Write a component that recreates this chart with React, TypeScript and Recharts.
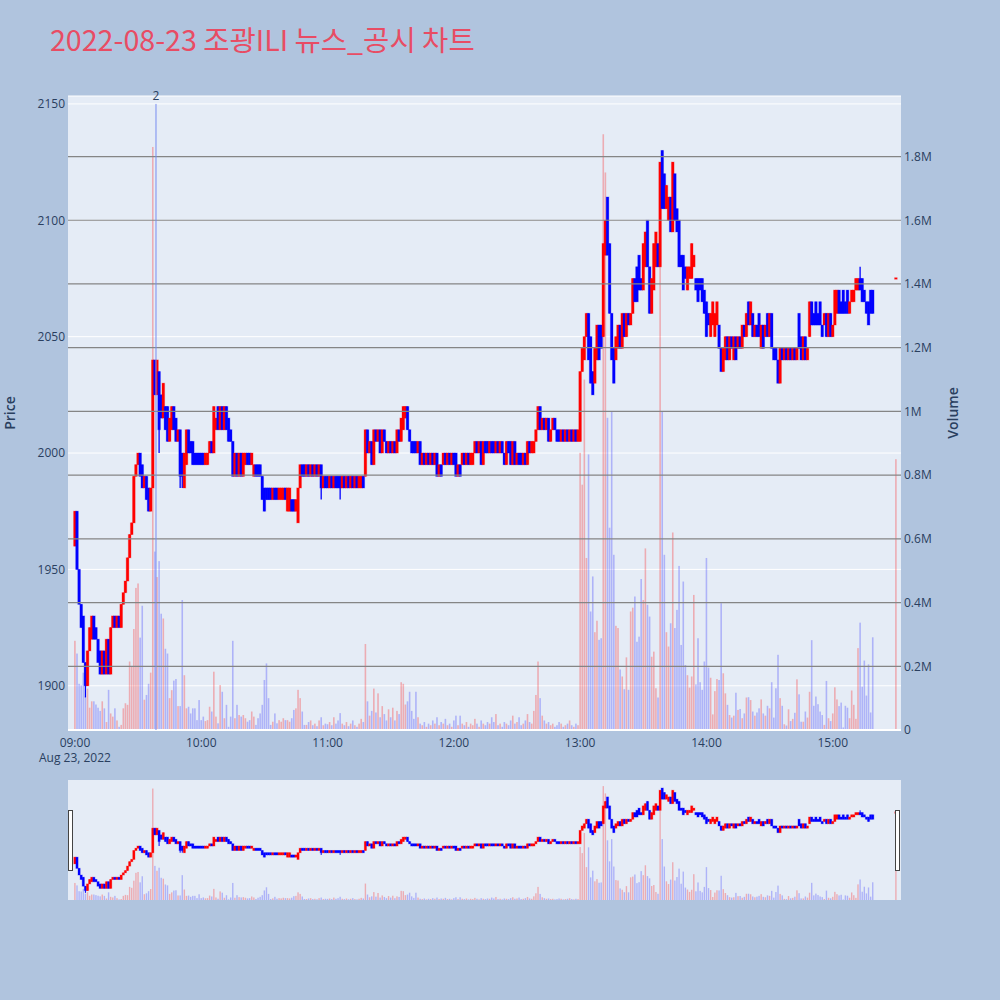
import React from 'react';
import { ComposedChart, Bar, XAxis, YAxis, CartesianGrid, ReferenceLine, ReferenceDot } from 'recharts';

const FONT = "'Open Sans', 'Noto Sans CJK KR', sans-serif";
const TEXT = '#2a3f5f';
const UP = '#ff0000';
const DOWN = '#0000ff';

const title = '2022-08-23 조광ILI 뉴스_공시 차트';
const dateLabel = 'Aug 23, 2022';
// minutes after 09:00
const timeTicks = [0, 60, 120, 180, 240, 300, 360];
const timeLabels = ['09:00', '10:00', '11:00', '12:00', '13:00', '14:00', '15:00'];
const priceTicks = [1900, 1950, 2000, 2050, 2100, 2150];
const volumeTicks = [0, 200, 400, 600, 800, 1000, 1200, 1400, 1600, 1800]; // thousand shares
const news = [{ minute: 38.5, price: 2150, count: 2 }];

// 1-minute candles [open, close], one list per hour
const candles09: [number, number][] = [
  [1960, 1975], [1975, 1950], [1950, 1935], [1935, 1925], [1930, 1910], [1910, 1900], [1900, 1915], [1915, 1925], [1920, 1930], [1930, 1920],
  [1925, 1920], [1920, 1910], [1915, 1905], [1905, 1915], [1915, 1905], [1905, 1920], [1920, 1905], [1905, 1925], [1925, 1930], [1930, 1925],
  [1925, 1930], [1930, 1925], [1925, 1935], [1935, 1940], [1940, 1945], [1945, 1955], [1955, 1965], [1965, 1970], [1970, 1990], [1990, 1995],
  [1995, 2000], [2000, 1990], [1995, 1985], [1985, 1990], [1990, 1980], [1985, 1975], [1975, 1985], [1985, 2040], [2040, 2025], [2025, 2040],
  [2035, 2010], [2025, 2015], [2015, 2030], [2020, 2010], [2020, 2005], [2005, 2015], [2010, 2020], [2020, 2010], [2015, 2005], [2005, 2010],
  [2010, 1990], [2000, 1990], [1985, 2000], [1995, 2010], [2010, 2000], [2005, 2000], [2005, 1995], [2000, 1995], [2000, 1995], [2000, 1995],
];
const candles10: [number, number][] = [
  [2000, 1995], [2000, 1995], [1995, 2000], [1995, 2000], [2000, 2005], [2005, 2000], [2000, 2020], [2010, 2015], [2020, 2010], [2010, 2020],
  [2020, 2010], [2010, 2020], [2020, 2010], [2015, 2005], [2010, 2005], [2005, 1990], [1990, 2000], [2000, 1990], [1990, 2000], [2000, 1990],
  [1990, 2000], [1995, 2000], [2000, 1995], [2000, 1995], [1995, 2000], [1990, 1995], [1995, 1990], [1995, 1990], [1995, 1990], [1990, 1980],
  [1985, 1975], [1985, 1980], [1985, 1980], [1985, 1980], [1980, 1985], [1985, 1980], [1985, 1980], [1980, 1985], [1980, 1985], [1980, 1985],
  [1985, 1980], [1975, 1985], [1975, 1985], [1980, 1975], [1980, 1975], [1975, 1980], [1970, 1985], [1985, 1995], [1995, 1990], [1995, 1990],
  [1990, 1995], [1995, 1990], [1990, 1995], [1995, 1990], [1990, 1995], [1995, 1990], [1990, 1995], [1995, 1985], [1985, 1990], [1990, 1985],
];
const candles11: [number, number][] = [
  [1990, 1985], [1985, 1990], [1990, 1985], [1985, 1990], [1990, 1985], [1990, 1985], [1990, 1985], [1985, 1990], [1990, 1985], [1985, 1990],
  [1990, 1985], [1985, 1990], [1990, 1985], [1985, 1990], [1990, 1985], [1985, 1990], [1985, 1990], [1990, 1985], [1990, 2010], [2010, 2000],
  [2000, 2005], [2005, 1995], [1995, 2010], [2010, 2005], [2005, 2010], [2010, 2000], [2000, 2010], [2010, 2005], [2005, 2000], [2000, 2005],
  [2005, 2000], [2000, 2005], [2005, 2000], [2000, 2010], [2010, 2005], [2005, 2015], [2010, 2020], [2015, 2020], [2020, 2010], [2010, 2005],
  [2005, 2000], [2005, 2000], [2005, 2000], [2000, 2005], [2005, 1995], [1995, 2000], [2000, 1995], [1995, 2000], [2000, 1995], [1995, 2000],
  [2000, 1995], [1995, 2000], [2000, 1990], [1990, 1995], [1995, 1990], [1995, 2000], [2000, 1995], [1995, 2000], [2000, 1995], [1995, 2000],
];
const candles12: [number, number][] = [
  [2000, 1995], [2000, 1990], [1990, 1995], [1995, 1990], [1995, 2000], [2000, 1995], [1995, 2000], [2000, 1995], [1995, 2000], [1995, 2000],
  [2000, 2005], [2005, 2000], [2000, 2005], [2005, 1995], [1995, 2005], [2005, 2000], [2005, 2000], [2000, 2005], [2005, 2000], [2005, 2000],
  [2000, 2005], [2005, 2000], [2000, 2005], [2005, 2000], [2000, 1995], [1995, 2005], [2005, 2000], [2005, 1995], [1995, 2005], [2005, 1995],
  [1995, 2000], [2000, 1995], [2000, 1995], [1995, 2000], [2000, 1995], [1995, 2005], [2005, 2000], [2000, 2005], [2000, 2005], [2005, 2010],
  [2010, 2020], [2020, 2010], [2010, 2015], [2015, 2010], [2010, 2015], [2015, 2005], [2005, 2010], [2010, 2015], [2015, 2010], [2010, 2005],
  [2010, 2005], [2005, 2010], [2010, 2005], [2005, 2010], [2010, 2005], [2005, 2010], [2010, 2005], [2005, 2010], [2010, 2005], [2005, 2010],
];
const candles13: [number, number][] = [
  [2005, 2035], [2035, 2045], [2040, 2050], [2050, 2060], [2060, 2040], [2050, 2030], [2035, 2025], [2030, 2045], [2040, 2055], [2055, 2040],
  [2055, 2045], [2050, 2090], [2085, 2100], [2110, 2085], [2090, 2060], [2060, 2040], [2045, 2030], [2040, 2050], [2045, 2055], [2055, 2045],
  [2045, 2060], [2060, 2050], [2050, 2060], [2060, 2055], [2055, 2060], [2060, 2075], [2075, 2065], [2080, 2065], [2085, 2070], [2075, 2070],
  [2070, 2090], [2080, 2095], [2100, 2080], [2080, 2060], [2060, 2075], [2070, 2090], [2080, 2095], [2090, 2080], [2080, 2125], [2130, 2105],
  [2120, 2105], [2105, 2115], [2100, 2110], [2110, 2095], [2095, 2125], [2120, 2100], [2105, 2095], [2100, 2080], [2085, 2080], [2085, 2070],
  [2080, 2075], [2070, 2080], [2075, 2080], [2075, 2090], [2080, 2085], [2075, 2070], [2075, 2065], [2075, 2070], [2075, 2065], [2070, 2060],
];
const candles14: [number, number][] = [
  [2065, 2050], [2060, 2055], [2050, 2060], [2055, 2065], [2050, 2060], [2055, 2065], [2055, 2045], [2045, 2035], [2035, 2045], [2040, 2050],
  [2050, 2040], [2040, 2050], [2050, 2045], [2040, 2050], [2050, 2040], [2045, 2050], [2050, 2045], [2045, 2055], [2055, 2050], [2050, 2060],
  [2065, 2055], [2055, 2065], [2060, 2050], [2050, 2055], [2055, 2050], [2060, 2050], [2045, 2055], [2055, 2045], [2050, 2055], [2060, 2050],
  [2050, 2060], [2060, 2045], [2045, 2040], [2045, 2040], [2040, 2030], [2030, 2045], [2045, 2040], [2040, 2045], [2045, 2040], [2040, 2045],
  [2045, 2040], [2040, 2045], [2045, 2040], [2040, 2045], [2060, 2045], [2050, 2040], [2040, 2050], [2050, 2040], [2040, 2045], [2050, 2065],
  [2065, 2055], [2060, 2055], [2065, 2055], [2060, 2055], [2065, 2055], [2055, 2050], [2055, 2060], [2060, 2050], [2050, 2060], [2060, 2050],
];
const candles15: [number, number][] = [
  [2050, 2055], [2055, 2070], [2060, 2070], [2070, 2060], [2065, 2060], [2070, 2060], [2065, 2060], [2070, 2060], [2060, 2065], [2065, 2070],
  [2065, 2070], [2070, 2075], [2070, 2075], [2075, 2070], [2075, 2065], [2070, 2065], [2065, 2060], [2065, 2055], [2070, 2060], [2070, 2060],
];
// 15:30 closing auction
const closing = { minute: 390, open: 2075, close: 2075, volume: 850 };

// wicks past the body: [minute, high, low]
const wicks: [number, number, number][] = [
  [5, 1910, 1895], [40, 2035, 2000], [50, 2010, 1985], [51, 2000, 1985],
  [117, 1995, 1980], [126, 1990, 1980], [373, 2080, 2070],
];

// volume per minute, thousand shares
const volume09 = [
  280, 240, 145, 140, 180, 105, 130, 70, 90, 90, 80, 70, 60, 90, 68, 25, 126, 52, 42, 68,
  30, 10, 16, 68, 84, 79, 215, 200, 317, 446, 460, 290, 390, 95, 110, 145, 180, 1830, 560, 480,
  530, 365, 350, 255, 240, 100, 125, 155, 160, 75, 75, 408, 172, 68, 73, 52, 68, 68, 31, 94,
];
const volume10 = [
  31, 42, 28, 31, 73, 58, 183, 42, 21, 141, 120, 37, 79, 10, 42, 280, 37, 79, 47, 42,
  47, 37, 26, 31, 58, 42, 16, 37, 52, 79, 157, 209, 100, 16, 26, 52, 21, 31, 26, 37,
  31, 31, 26, 37, 63, 68, 126, 100, 58, 16, 16, 25, 30, 15, 20, 12, 30, 40, 15, 20,
];
const volume11 = [
  18, 25, 15, 40, 20, 30, 53, 20, 15, 25, 12, 20, 30, 15, 10, 20, 35, 25, 270, 90,
  45, 60, 130, 55, 115, 40, 75, 50, 30, 65, 40, 70, 30, 60, 50, 150, 145, 80, 90, 120,
  60, 35, 120, 40, 20, 15, 25, 10, 20, 15, 30, 20, 40, 15, 25, 20, 35, 15, 20, 10,
];
const volume12 = [
  30, 45, 15, 45, 20, 15, 25, 10, 20, 15, 35, 20, 10, 30, 20, 15, 25, 20, 40, 25,
  50, 15, 20, 10, 25, 20, 15, 30, 45, 20, 25, 40, 15, 20, 30, 50, 25, 20, 60, 110,
  215, 100, 45, 30, 20, 25, 15, 20, 10, 15, 25, 20, 10, 15, 20, 30, 15, 10, 20, 15,
];
const volume13 = [
  870, 770, 1100, 540, 865, 372, 482, 307, 343, 283, 288, 1870, 1750, 980, 635, 1000, 550, 327, 320, 190,
  168, 128, 228, 126, 372, 384, 419, 277, 293, 474, 408, 570, 393, 356, 230, 246, 131, 102, 1470, 1000,
  550, 307, 262, 335, 620, 320, 377, 515, 267, 466, 204, 172, 133, 168, 424, 143, 288, 150, 126, 215,
];
const volume14 = [
  540, 196, 164, 49, 122, 160, 157, 398, 178, 115, 79, 47, 39, 45, 117, 63, 66, 37, 52, 102,
  103, 94, 58, 45, 55, 68, 96, 52, 45, 76, 68, 150, 39, 131, 236, 100, 76, 18, 14, 65,
  28, 35, 54, 159, 112, 26, 26, 58, 39, 120, 282, 76, 105, 81, 58, 47, 16, 154, 37, 28,
];
const volume15 = [52, 134, 96, 75, 86, 8, 76, 70, 37, 124, 79, 35, 257, 337, 136, 218, 108, 206, 55, 291];

const hourCandles = [candles09, candles10, candles11, candles12, candles13, candles14, candles15];
const hourVolumes = [volume09, volume10, volume11, volume12, volume13, volume14, volume15];

type Row = {
  minute: number; open: number; close: number; high: number; low: number;
  volume: number; up: boolean; body: [number, number]; wick: [number, number];
};

const rows: Row[] = [];
const pushRow = (minute: number, open: number, close: number, volume: number) => {
  const prev = rows.length ? rows[rows.length - 1].close : open;
  const up = close > open || (close === open && close >= prev);
  rows.push({
    minute, open, close, volume, up,
    high: Math.max(open, close), low: Math.min(open, close),
    body: [Math.min(open, close), Math.max(open, close)], wick: [0, 0],
  });
};
hourCandles.forEach((list, h) => list.forEach(([o, c], i) => pushRow(h * 60 + i, o, c, hourVolumes[h][i])));
pushRow(closing.minute, closing.open, closing.close, closing.volume);
wicks.forEach(([m, hi, lo]) => {
  const r = rows.find((d) => d.minute === m);
  if (r) { r.high = Math.max(r.high, hi); r.low = Math.min(r.low, lo); }
});
rows.forEach((r) => { r.wick = [r.low, r.high]; });

const X_DOMAIN: [number, number] = [-3.3, 392.4];

const makeBody = (w: number) => (props: any) => {
  const { x, y, width, height, payload } = props;
  const c = payload.up ? UP : DOWN;
  const cx = x + width / 2;
  const top = height < 0 ? y + height : y;
  const h = Math.abs(height);
  const hh = Math.max(h, 1.5);
  return <rect x={cx - w / 2} y={top - (hh - h) / 2} width={w} height={hh} fill={c} stroke={c} strokeOpacity={0.3} strokeWidth={1} />;
};
const makeWick = (w: number) => (props: any) => {
  const { x, y, width, height, payload } = props;
  const cx = x + width / 2;
  return <line x1={cx} x2={cx} y1={y} y2={y + height} stroke={payload.up ? UP : DOWN} strokeWidth={w} />;
};
const makeVolume = (w: number) => (props: any) => {
  const { x, y, width, height, payload } = props;
  const cx = x + width / 2;
  return <rect x={cx - w / 2} y={y} width={w} height={Math.max(height, 0)} fill={payload.up ? UP : DOWN} fillOpacity={payload.up ? 0.27 : 0.24} />;
};

const TimeTick = (props: any) => {
  const { x, y, index } = props;
  return (
    <text x={x} y={y} textAnchor="middle" fill={TEXT} fontSize={12} fontFamily={FONT}>
      <tspan x={x} dy={16.5}>{timeLabels[index]}</tspan>
      {index === 0 && <tspan x={x} dy={15.5}>{dateLabel}</tspan>}
    </text>
  );
};

const volLabel = (v: number) => (v === 0 ? '0' : `${v / 1000}M`);
const tickStyle = { fill: TEXT, fontSize: 12, fontFamily: FONT };

function MainChart() {
  return (
    <ComposedChart width={1000} height={780} data={rows} margin={{ top: 96, right: 0, bottom: 0, left: 0 }}>
      <XAxis xAxisId="time" type="number" dataKey="minute" domain={X_DOMAIN} allowDataOverflow ticks={timeTicks}
        interval={0} tick={<TimeTick />} axisLine={false} tickLine={false} tickSize={0} tickMargin={0} height={50} />
      <XAxis xAxisId="vol" type="number" dataKey="minute" domain={X_DOMAIN} allowDataOverflow hide height={0} />
      <XAxis xAxisId="wick" type="number" dataKey="minute" domain={X_DOMAIN} allowDataOverflow hide height={0} />
      <XAxis xAxisId="body" type="number" dataKey="minute" domain={X_DOMAIN} allowDataOverflow hide height={0} />
      <YAxis yAxisId="price" orientation="left" domain={[1881, 2153.4]} allowDataOverflow ticks={priceTicks} interval={0}
        width={68} axisLine={false} tickLine={false} tickSize={0} tickMargin={3} tick={tickStyle} />
      <YAxis yAxisId="vol" orientation="right" domain={[0, 1990]} allowDataOverflow ticks={volumeTicks} interval={0}
        tickFormatter={volLabel} width={99} axisLine={false} tickLine={false} tickSize={0} tickMargin={3} tick={tickStyle} />
      <CartesianGrid xAxisId="time" yAxisId="price" fill="#e5ecf6" stroke="#ffffff" vertical={false} />
      {volumeTicks.map((v) => (
        <ReferenceLine key={v} xAxisId="time" yAxisId="vol" y={v} stroke={v === 0 ? '#ffffff' : '#858585'} strokeWidth={v === 0 ? 2 : 1.2} />
      ))}
      <Bar xAxisId="vol" yAxisId="vol" dataKey="volume" barSize={2} shape={makeVolume(1.6)} isAnimationActive={false} />
      {news.map((n) => (
        <ReferenceLine key={n.minute} xAxisId="time" yAxisId="price"
          segment={[{ x: n.minute, y: n.price }, { x: n.minute, y: 1881 }]} stroke="rgb(120,140,240)" strokeWidth={1} />
      ))}
      <Bar xAxisId="wick" yAxisId="price" dataKey="wick" barSize={2} shape={makeWick(1.3)} isAnimationActive={false} />
      <Bar xAxisId="body" yAxisId="price" dataKey="body" barSize={2} shape={makeBody(2.6)} isAnimationActive={false} />
      {news.map((n) => (
        <ReferenceDot key={n.minute} xAxisId="time" yAxisId="price" x={n.minute} y={n.price} r={0} stroke="none" fill="none"
          label={{ value: String(n.count), position: 'top', offset: 4, fill: TEXT, fontSize: 12, fontFamily: FONT }} />
      ))}
    </ComposedChart>
  );
}

function RangeSlider() {
  return (
    <ComposedChart width={1000} height={120} data={rows} margin={{ top: 0, right: 99, bottom: 0, left: 68 }}>
      <XAxis xAxisId="vol" type="number" dataKey="minute" domain={X_DOMAIN} allowDataOverflow hide height={0} />
      <XAxis xAxisId="wick" type="number" dataKey="minute" domain={X_DOMAIN} allowDataOverflow hide height={0} />
      <XAxis xAxisId="body" type="number" dataKey="minute" domain={X_DOMAIN} allowDataOverflow hide height={0} />
      <YAxis yAxisId="price" domain={[1879, 2148]} allowDataOverflow hide width={0} />
      <YAxis yAxisId="vol" domain={[0, 1970]} allowDataOverflow hide width={0} />
      <CartesianGrid xAxisId="vol" yAxisId="price" fill="#e5ecf6" stroke="none" horizontal={false} vertical={false} />
      <Bar xAxisId="vol" yAxisId="vol" dataKey="volume" barSize={2} shape={makeVolume(1.4)} isAnimationActive={false} />
      <Bar xAxisId="wick" yAxisId="price" dataKey="wick" barSize={2} shape={makeWick(1)} isAnimationActive={false} />
      <Bar xAxisId="body" yAxisId="price" dataKey="body" barSize={2} shape={makeBody(2.2)} isAnimationActive={false} />
    </ComposedChart>
  );
}

export default function App() {
  return (
    <div style={{ position: 'absolute', left: 0, top: 0, width: 1000, height: 1000, background: '#b0c4de', overflow: 'hidden' }}>
      <div style={{ position: 'absolute', left: 0, top: 0 }}>
        <MainChart />
      </div>
      <div style={{ position: 'absolute', left: 0, top: 780 }}>
        <RangeSlider />
      </div>
      <svg width={1000} height={1000} style={{ position: 'absolute', left: 0, top: 0, pointerEvents: 'none' }}>
        <text x={50} y={50.5} fontSize={28.6} fill="rgb(232,76,100)" fontFamily="'Noto Sans CJK KR', 'Open Sans', sans-serif">{title}</text>
        <text x={15} y={413} transform="rotate(-90 15 413)" textAnchor="middle" fontSize={14} fontWeight={600} fill={TEXT} fontFamily={FONT}>Price</text>
        <text x={958} y={413} transform="rotate(-90 958 413)" textAnchor="middle" fontSize={14} fontWeight={600} fill={TEXT} fontFamily={FONT}>Volume</text>
        <rect x={68.5} y={810.5} width={4} height={60} fill="#ffffff" stroke="#444444" strokeWidth={1} />
        <rect x={895.5} y={810.5} width={4} height={60} fill="#ffffff" stroke="#444444" strokeWidth={1} />
      </svg>
    </div>
  );
}
